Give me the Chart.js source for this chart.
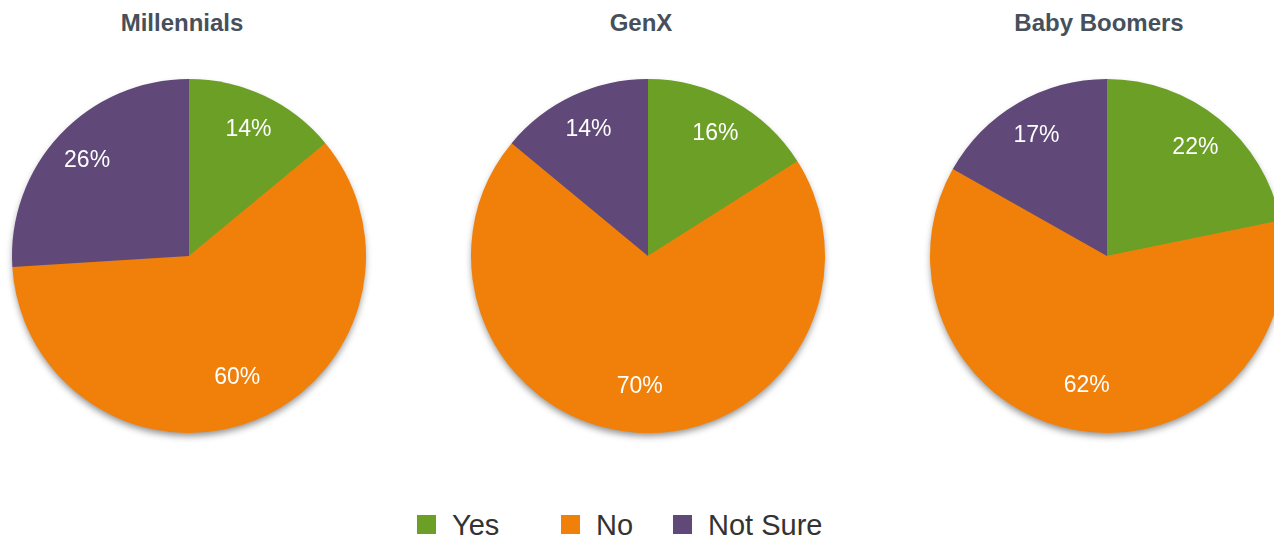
<!DOCTYPE html>
<html>
<head>
<meta charset="utf-8">
<script src="https://cdn.jsdelivr.net/npm/chart.js@4.4.0/dist/chart.umd.min.js"></script>
<style>
    body { margin: 0; width: 1274px; height: 539px; overflow: hidden; background: #fff; font-family: "Liberation Sans", Arial, sans-serif; position: relative; }
    .title { position: absolute; top: 9px; width: 380px; text-align: center; font-size: 24px; font-weight: bold; color: #46505b; }
    .box { position: absolute; top: 66px; width: 380px; height: 380px; }
    #legend { position: absolute; top: 511px; left: 417px; height: 36px; font-size: 29px; color: #333; white-space: nowrap; }
    #legend span.item { position: absolute; top: 0; }
    #legend span.sw { position: absolute; top: 4px; left: 0; width: 19px; height: 19px; }
    #legend span.tx { position: absolute; top: -2px; left: 35px; }
</style>
</head>
<body>
<div class="title" style="left: -8px;">Millennials</div>
<div class="title" style="left: 451px;">GenX</div>
<div class="title" style="left: 909px;">Baby Boomers</div>
<div class="box" style="left: -1px;"><canvas id="chart1"></canvas></div>
<div class="box" style="left: 458px;"><canvas id="chart2"></canvas></div>
<div class="box" style="left: 917px;"><canvas id="chart3"></canvas></div>
<div id="legend"></div>
<script>
const categories = ["Yes", "No", "Not Sure"];
const colors = ["#6b9f26", "#f0800a", "#604878"];
const millennials = [14, 60, 26];
const genx = [16, 70, 14];
const boomers = [22, 62, 17];

// white percent labels inside the slices + soft shadow under the pie
const pieExtras = {
    id: 'pieExtras',
    beforeDatasetsDraw(chart) {
        const arc = chart.getDatasetMeta(0).data[0];
        const ctx = chart.ctx;
        ctx.save();
        ctx.shadowColor = 'rgba(0,0,0,0.45)';
        ctx.shadowBlur = 7;
        ctx.shadowOffsetY = 4;
        ctx.fillStyle = colors[1];
        ctx.beginPath();
        ctx.arc(arc.x, arc.y, arc.outerRadius - 1, 0, Math.PI * 2);
        ctx.fill();
        ctx.restore();
    },
    afterDatasetsDraw(chart) {
        const ctx = chart.ctx;
        const values = chart.data.datasets[0].data;
        ctx.save();
        ctx.fillStyle = '#fff';
        ctx.font = '23px "Liberation Sans", Arial, sans-serif';
        ctx.textAlign = 'center';
        ctx.textBaseline = 'middle';
        chart.getDatasetMeta(0).data.forEach(function (el, i) {
            const mid = (el.startAngle + el.endAngle) / 2;
            // big slices get their label a bit closer to the centre
            const r = el.outerRadius * (values[i] > 50 ? 0.74 : 0.79);
            ctx.fillText(values[i] + '%', el.x + Math.cos(mid) * r, el.y + Math.sin(mid) * r);
        });
        ctx.restore();
    }
};

function pie(id, values) {
    const ctx = document.getElementById(id);
    new Chart(ctx, {
        type: 'pie',
        data: {
            labels: categories,
            datasets: [{
                data: values,
                backgroundColor: colors,
                borderWidth: 0
            }]
        },
        options: {
            responsive: true,
            maintainAspectRatio: false,
            animation: { duration: 0 },
            layout: { padding: 13 },
            plugins: {
                legend: { display: false },
                tooltip: { enabled: false }
            }
        },
        plugins: [pieExtras]
    });
}

function addLegend() {
    const offsets = [0, 144, 256];
    const legend = document.getElementById("legend");
    for (let i = 0; i < categories.length; i++) {
        const item = document.createElement("span");
        item.className = "item";
        item.style.left = offsets[i] + "px";
        item.innerHTML = '<span class="sw" style="background:' + colors[i] + '"></span><span class="tx">' + categories[i] + '</span>';
        legend.appendChild(item);
    }
}

pie('chart1', millennials);
pie('chart2', genx);
pie('chart3', boomers);
addLegend();
</script>
</body>
</html>
